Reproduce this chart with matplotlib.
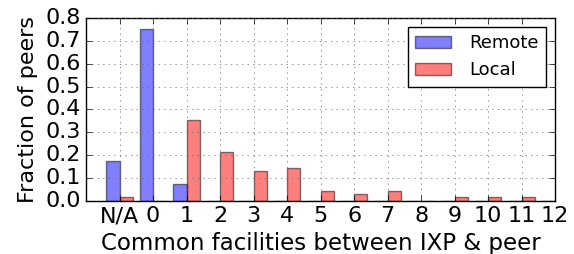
import matplotlib
matplotlib.use("Agg")
import matplotlib.pyplot as plt
import numpy as np

plt.style.use("classic")

categories = ["N/A", "0", "1", "2", "3", "4", "5", "6", "7", "8", "9", "10", "11", "12"]
remote = [0.175, 0.754, 0.074, 0, 0, 0, 0, 0, 0, 0, 0, 0, 0, 0]
local = [0.016, 0.0, 0.354, 0.213, 0.13, 0.144, 0.044, 0.031, 0.042, 0.0, 0.015, 0.015, 0.015, 0.0]

fig = plt.figure(figsize=(5.74, 2.54), dpi=100, facecolor="white")
ax = fig.add_axes([0.15, 0.209, 0.817, 0.72])

x = np.arange(len(categories))
w = 0.4
# remote sits left of the tick, local right of it
ax.bar(x - w, remote, w, align="edge", color="blue", alpha=0.5, edgecolor="black", linewidth=1, label="Remote")
ax.bar(x, local, w, align="edge", color="red", alpha=0.5, edgecolor="black", linewidth=1, label="Local")

ax.set_xlim(-1, 13)
ax.set_ylim(0, 0.8)
ax.set_xticks(x)
ax.set_xticklabels(categories, fontsize=16)
ax.set_yticks(np.arange(0, 0.81, 0.1))
ax.tick_params(axis="y", labelsize=16)
ax.grid(True, color="0.4")
ax.set_xlabel("Common facilities between IXP & peer", fontsize=16.5, labelpad=4)
ax.set_ylabel("Fraction of peers", fontsize=16)
ax.legend(loc="upper right", fontsize=13, handletextpad=1.0)

fig.savefig("out.png", dpi=100, facecolor="white")
